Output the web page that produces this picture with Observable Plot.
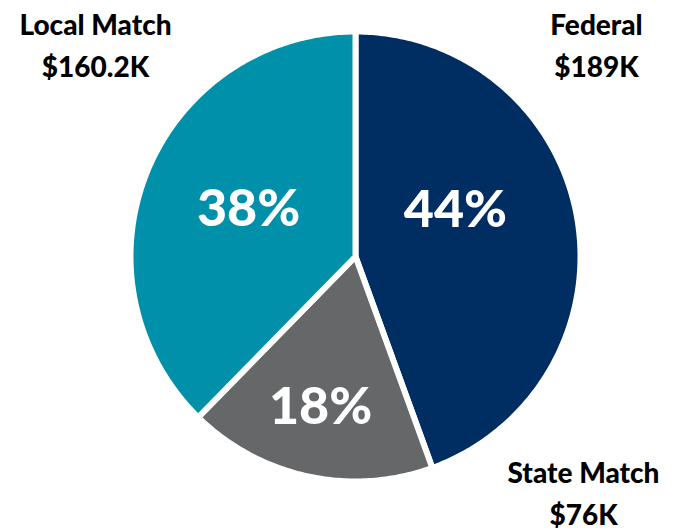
<!DOCTYPE html>
<html>
<head>
<meta charset="utf-8">
<script src="https://cdn.jsdelivr.net/npm/d3@7"></script>
<script src="https://cdn.jsdelivr.net/npm/@observablehq/plot@0.6"></script>
<style>
  html, body { margin: 0; padding: 0; background: #fff; }
  #chart svg { display: block; }
</style>
</head>
<body>
<div id="chart"></div>
<script>
// ---- data ----
const categories = ["Federal", "State Match", "Local Match"];
const amounts = [189, 76, 160.2];           // thousands of dollars
const amountLabels = ["$189K", "$76K", "$160.2K"];
const percentLabels = ["44%", "18%", "38%"];
const colors = ["#002D62", "#666769", "#0090A9"];

// ---- layout ----
const W = 685, H = 531;
const cx = 355, cy = 256, R = 225;
const pctPos = [[65, 0.49], [193, 0.69], [294, 0.52]];  // angle (deg), radius factor
const outerPos = [[596, 42], [583, 490], [95, 42]];

const pie = d3.pie().sort(null).value(d => d)(amounts);
const slices = [];
pie.forEach((p, i) => {
  slices.push({cat: categories[i], x: cx, y: cy});
  const n = Math.max(4, Math.ceil((p.endAngle - p.startAngle) * 80));
  for (let k = 0; k <= n; k++) {
    const a = p.startAngle + (p.endAngle - p.startAngle) * k / n;
    slices.push({cat: categories[i], x: cx + R * Math.sin(a), y: cy - R * Math.cos(a)});
  }
});

const pcts = categories.map((c, i) => {
  const a = pctPos[i][0] * Math.PI / 180, r = pctPos[i][1] * R;
  return {cat: c, text: percentLabels[i], x: cx + r * Math.sin(a), y: cy - r * Math.cos(a)};
});
const outers = categories.map((c, i) => ({cat: c, text: c + "\n" + amountLabels[i], x: outerPos[i][0], y: outerPos[i][1]}));

const chart = Plot.plot({
  width: W, height: H,
  margin: 0,
  x: {domain: [0, W], range: [0, W], axis: null},
  y: {domain: [0, H], range: [0, H], axis: null},
  color: {domain: categories, range: colors},
  style: {fontFamily: "Lato, 'DejaVu Sans', sans-serif", background: "#fff"},
  marks: [
    Plot.line(slices, {x: "x", y: "y", z: "cat", fill: "cat", stroke: "white", strokeWidth: 6, strokeLinejoin: "round", curve: "linear-closed"}),
    Plot.text(pcts, {x: "x", y: "y", text: "text", fill: "white", fontSize: 52, fontWeight: 900}),
    Plot.text(outers, {x: "x", y: "y", text: "text", fill: "black", fontSize: 28, fontWeight: 900, lineHeight: 1.5, lineAnchor: "middle"})
  ]
});
document.getElementById("chart").appendChild(chart);
</script>
</body>
</html>
